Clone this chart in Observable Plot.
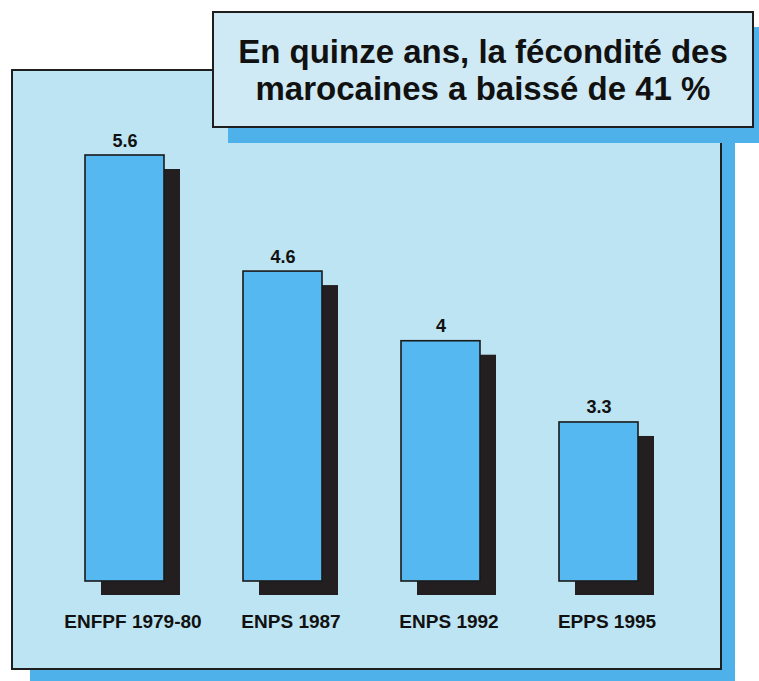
<!DOCTYPE html>
<html>
<head>
<meta charset="utf-8">
<script src="https://cdn.jsdelivr.net/npm/d3@7"></script>
<script src="https://cdn.jsdelivr.net/npm/@observablehq/plot@0.6"></script>
<style>
  html, body { margin: 0; padding: 0; background: #fff; }
  #wrap { position: relative; width: 759px; height: 681px; overflow: hidden; background: #fff;
          font-family: "Liberation Sans", Arial, Helvetica, sans-serif; }
  .abs { position: absolute; box-sizing: border-box; }
  #panelShadow { left: 30px; top: 84px; width: 705px; height: 620px; background: #4fb1ea; }
  #panel { left: 11px; top: 69px; width: 711px; height: 601px; background: #bde4f2; border: 2px solid #1e1e1e; }
  #titleShadow { left: 228px; top: 27px; width: 560px; height: 116px; background: #4fb1ea; }
  #titleBox { left: 212px; top: 11px; width: 542px; height: 117px; background: #cfeaf4; border: 2px solid #1e1e1e;
              display: flex; align-items: center; justify-content: center; text-align: center;
              font-weight: bold; font-size: 33px; line-height: 37px; color: #111; padding-bottom: 0px; }
  #chart { left: 0; top: 0; }
</style>
</head>
<body>
<div id="wrap">
  <div class="abs" id="panelShadow"></div>
  <div class="abs" id="panel"></div>
  <div class="abs" id="titleShadow"></div>
  <div class="abs" id="titleBox"><div>En quinze ans, la fécondité des<br>marocaines a baissé de 41 %</div></div>
  <div class="abs" id="chart"></div>
</div>
<script>
const categories = ["ENFPF 1979-80", "ENPS 1987", "ENPS 1992", "EPPS 1995"];
const values = [5.6, 4.6, 4, 3.3];
const valueLabels = ["5.6", "4.6", "4", "3.3"];
const yBase = 1.93;

const data = categories.map((c, i) => ({cat: c, v: values[i], label: valueLabels[i]}));

const chart = Plot.plot({
  width: 759,
  height: 681,
  margin: 0,
  style: {background: "transparent", overflow: "visible", fontFamily: "'Liberation Sans', Arial, sans-serif"},
  x: {domain: categories, range: [4, 718], padding: 0.5, axis: null},
  y: {domain: [yBase, 5.6], range: [581, 155], axis: null},
  marks: [
    Plot.barY(data, {x: "cat", y1: yBase, y2: "v", fill: "#231f20", dx: 16, dy: 14}),
    Plot.barY(data, {x: "cat", y1: yBase, y2: "v", fill: "#56b8f0", stroke: "#1a1a1a", strokeWidth: 1.6}),
    Plot.text(data, {x: "cat", y: "v", text: "label", dy: -9, lineAnchor: "bottom", fontSize: 18, fontWeight: "bold", fill: "#111"}),
    Plot.text(data, {x: "cat", y: () => yBase, text: "cat", dx: 8, dy: 46, lineAnchor: "bottom", fontSize: 19, fontWeight: "bold", fill: "#111"})
  ]
});
document.getElementById("chart").appendChild(chart);
</script>
</body>
</html>
